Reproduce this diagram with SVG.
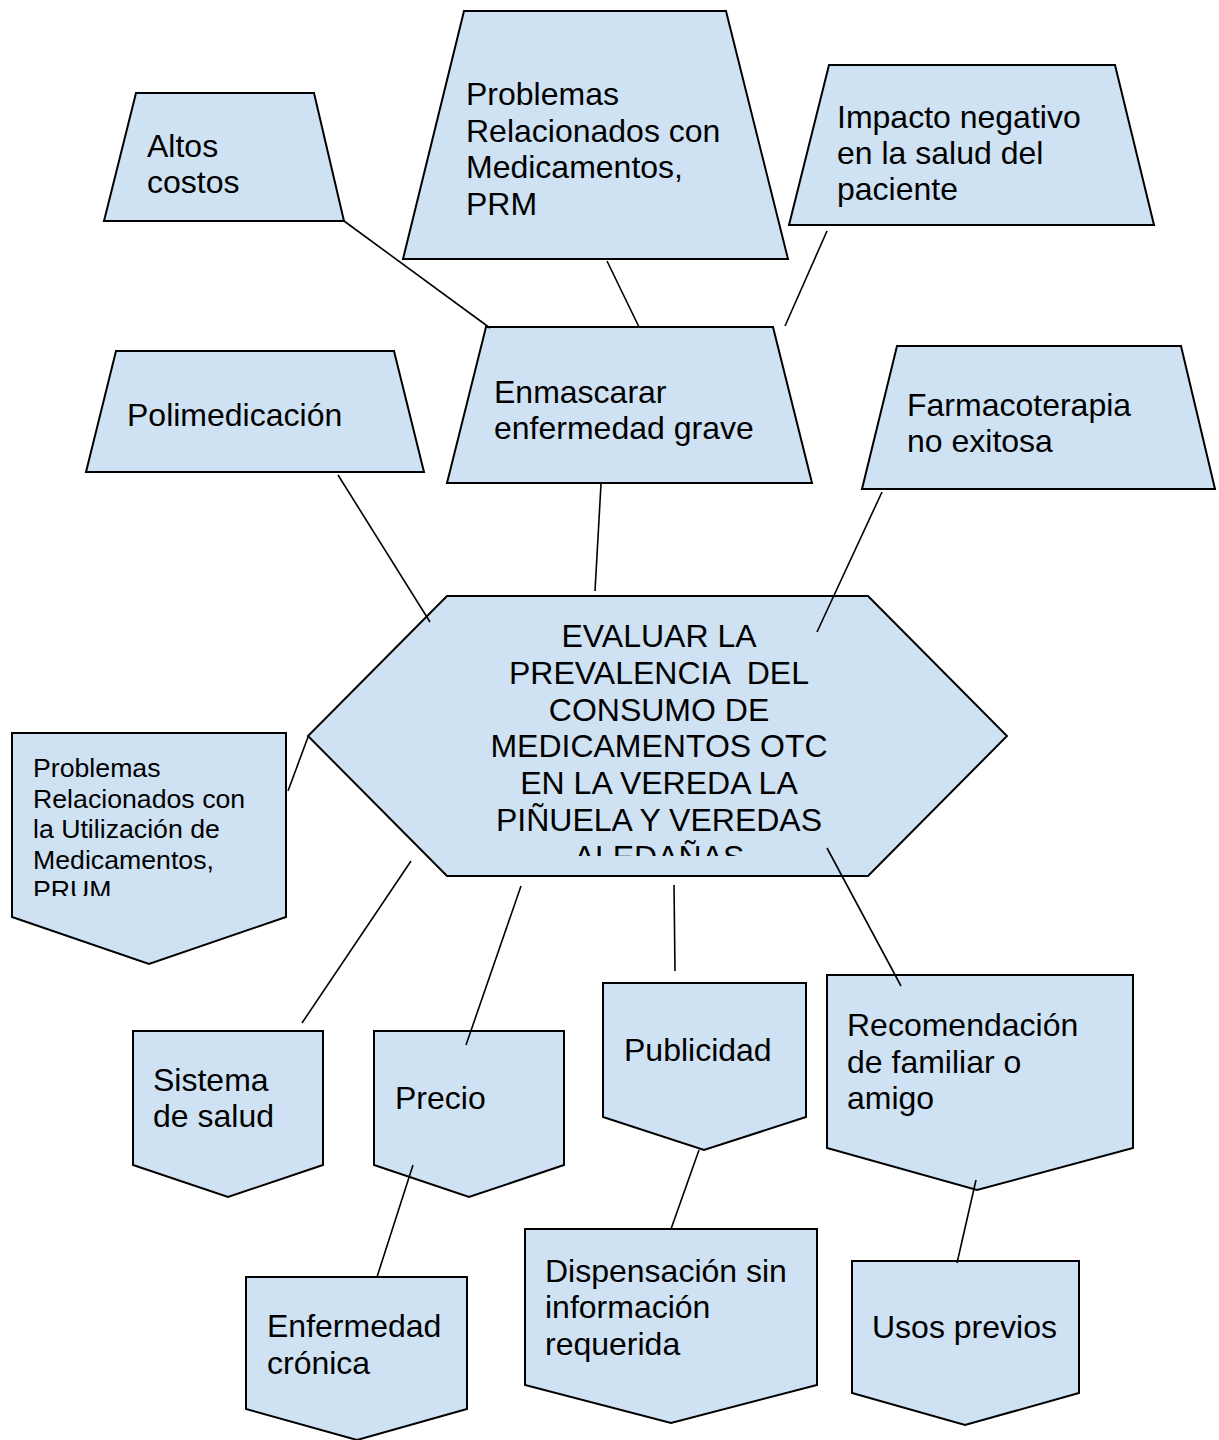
<svg xmlns="http://www.w3.org/2000/svg" width="1219" height="1440" viewBox="0 0 1219 1440">
<style>
.s{fill:#cfe2f3;stroke:#000;stroke-width:2;stroke-linejoin:miter}
.t{font-family:"Liberation Sans",Arial,sans-serif;font-size:32px;fill:#000}
.ts{font-family:"Liberation Sans",Arial,sans-serif;font-size:26.7px;fill:#000}
.c line{stroke:#000;stroke-width:1.6}
</style>
<defs>
<clipPath id="clipHex"><rect x="300" y="590" width="720" height="266"/></clipPath>
<clipPath id="clipPrum"><rect x="0" y="730" width="300" height="166"/></clipPath>
</defs>
<rect width="1219" height="1440" fill="#fff"/>
<g id="altos">
<polygon class="s" points="136,93 314,93 344,221 104,221"/>
<text class="t" x="147" y="157">Altos</text>
<text class="t" x="147" y="193">costos</text>
</g>
<g id="prm">
<polygon class="s" points="464,11 726,11 788,259 403,259"/>
<text class="t" x="466" y="105">Problemas</text>
<text class="t" x="466" y="142">Relacionados con</text>
<text class="t" x="466" y="178">Medicamentos,</text>
<text class="t" x="466" y="215">PRM</text>
</g>
<g id="impacto">
<polygon class="s" points="829,65 1115,65 1154,225 789,225"/>
<text class="t" x="837" y="128">Impacto negativo</text>
<text class="t" x="837" y="164">en la salud del</text>
<text class="t" x="837" y="200">paciente</text>
</g>
<g id="polimedicacion">
<polygon class="s" points="116,351 394,351 424,472 86,472"/>
<text class="t" x="127" y="426">Polimedicación</text>
</g>
<g id="enmascarar">
<polygon class="s" points="486,327 773,327 812,483 447,483"/>
<text class="t" x="494" y="403">Enmascarar</text>
<text class="t" x="494" y="439">enfermedad grave</text>
</g>
<g id="farmacoterapia">
<polygon class="s" points="897,346 1181,346 1215,489 862,489"/>
<text class="t" x="907" y="416">Farmacoterapia</text>
<text class="t" x="907" y="452">no exitosa</text>
</g>
<g id="central">
<polygon class="s" points="447,596 868,596 1007,736 868,876 447,876 308,736"/>
<g clip-path="url(#clipHex)" text-anchor="middle">
<text class="t" x="659" y="647">EVALUAR LA</text>
<text class="t" x="659" y="684" xml:space="preserve">PREVALENCIA  DEL</text>
<text class="t" x="659" y="721">CONSUMO DE</text>
<text class="t" x="659" y="757">MEDICAMENTOS OTC</text>
<text class="t" x="659" y="794">EN LA VEREDA LA</text>
<text class="t" x="659" y="831">PIÑUELA Y VEREDAS</text>
<text class="t" x="659" y="868">ALEDAÑAS</text>
</g>
</g>
<g id="prum">
<polygon class="s" points="12,733 286,733 286,917 149,964 12,917"/>
<g clip-path="url(#clipPrum)">
<text class="ts" x="33" y="777">Problemas</text>
<text class="ts" x="33" y="808">Relacionados con</text>
<text class="ts" x="33" y="838">la Utilización de</text>
<text class="ts" x="33" y="869">Medicamentos,</text>
<text class="ts" x="33" y="899">PRUM</text>
</g>
</g>
<g id="sistema">
<polygon class="s" points="133,1031 323,1031 323,1165 228,1197 133,1165"/>
<text class="t" x="153" y="1091">Sistema</text>
<text class="t" x="153" y="1127">de salud</text>
</g>
<g id="precio">
<polygon class="s" points="374,1031 564,1031 564,1165 469,1197 374,1165"/>
<text class="t" x="395" y="1109">Precio</text>
</g>
<g id="publicidad">
<polygon class="s" points="603,983 806,983 806,1117 704,1150 603,1117"/>
<text class="t" x="624" y="1061">Publicidad</text>
</g>
<g id="recomendacion">
<polygon class="s" points="827,975 1133,975 1133,1148 977,1190 827,1148"/>
<text class="t" x="847" y="1036">Recomendación</text>
<text class="t" x="847" y="1073">de familiar o</text>
<text class="t" x="847" y="1109">amigo</text>
</g>
<g id="enfermedad">
<polygon class="s" points="246,1277 467,1277 467,1409 357,1440 246,1409"/>
<text class="t" x="267" y="1337">Enfermedad</text>
<text class="t" x="267" y="1374">crónica</text>
</g>
<g id="dispensacion">
<polygon class="s" points="525,1229 817,1229 817,1385 671,1423 525,1385"/>
<text class="t" x="545" y="1282">Dispensación sin</text>
<text class="t" x="545" y="1318">información</text>
<text class="t" x="545" y="1355">requerida</text>
</g>
<g id="usos">
<polygon class="s" points="852,1261 1079,1261 1079,1393 965,1425 852,1393"/>
<text class="t" x="872" y="1338">Usos previos</text>
</g>
<g id="connectors" class="c">
<line x1="344" y1="221" x2="490" y2="328"/>
<line x1="607" y1="261" x2="639" y2="327"/>
<line x1="827" y1="231" x2="785" y2="326"/>
<line x1="338" y1="475" x2="430" y2="622"/>
<line x1="601" y1="484" x2="595" y2="591"/>
<line x1="882" y1="492" x2="817" y2="632"/>
<line x1="288" y1="791" x2="308" y2="737"/>
<line x1="411" y1="861" x2="302" y2="1023"/>
<line x1="521" y1="886" x2="466" y2="1045"/>
<line x1="674" y1="885" x2="675" y2="971"/>
<line x1="827" y1="848" x2="901" y2="986"/>
<line x1="413" y1="1165" x2="377" y2="1277"/>
<line x1="699" y1="1150" x2="671" y2="1229"/>
<line x1="976" y1="1180" x2="957" y2="1263"/>
</g>
</svg>
